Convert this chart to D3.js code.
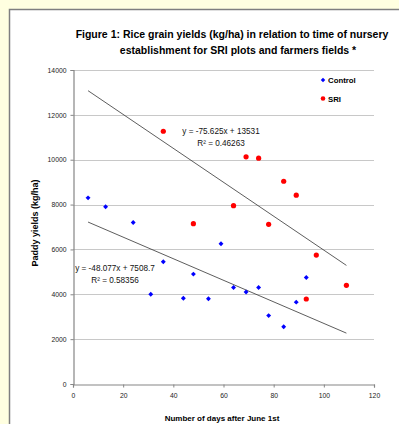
<!DOCTYPE html>
<html>
<head>
<meta charset="utf-8">
<script src="https://cdn.jsdelivr.net/npm/d3@7"></script>
<style>
  body { margin: 0; background: #ffffe0; }
  svg { display: block; font-family: "Liberation Sans", Arial, sans-serif; }
</style>
</head>
<body>
<div id="container"></div>
<script>
const width = 399;
const height = 424;

// days after June 1st and paddy yields (kg/ha)
const controlDays = [6, 13, 24, 31, 36, 44, 48, 54, 59, 64, 69, 74, 78, 84, 89, 93];
const controlYields = [8300, 7900, 7200, 4000, 5450, 3820, 4900, 3800, 6250, 4300, 4100, 4300, 3050, 2550, 3650, 4750];
const sriDays = [36, 48, 64, 69, 74, 78, 84, 89, 93, 97, 109];
const sriYields = [11270, 7150, 7950, 10130, 10070, 7120, 9040, 8420, 3790, 5750, 4400];

const xTicks = [0, 20, 40, 60, 80, 100, 120];
const yTicks = [0, 2000, 4000, 6000, 8000, 10000, 12000, 14000];

// trendlines: slope, intercept, label lines
const trends = [
  { name: "SRI", slope: -75.625, intercept: 13531, eq: "y = -75.625x + 13531", r2: "R² = 0.46263" },
  { name: "Control", slope: -48.077, intercept: 7508.7, eq: "y = -48.077x + 7508.7", r2: "R² = 0.58356" }
];
const trendRange = [6, 109];

const marginLeft = 73;
const marginRight = 25;
const marginTop = 70;
const marginBottom = 40;

const x = d3.scaleLinear().domain([0, 120]).range([marginLeft, width - marginRight]);
const y = d3.scaleLinear().domain([0, 14000]).range([height - marginBottom, marginTop]);

const svg = d3.select("#container")
  .append("svg")
  .attr("width", width)
  .attr("height", height);

// chart box
svg.append("rect")
  .attr("x", 9.5)
  .attr("y", 9.5)
  .attr("width", width)
  .attr("height", height)
  .attr("fill", "#fff")
  .attr("stroke", "#7f7f7f")
  .attr("stroke-width", 1.5);

// title
svg.append("text")
  .attr("x", 232)
  .attr("y", 38)
  .attr("text-anchor", "middle")
  .attr("font-weight", "bold")
  .attr("font-size", 10.5)
  .text("Figure 1: Rice grain yields (kg/ha) in relation to time of nursery");
svg.append("text")
  .attr("x", 238)
  .attr("y", 54)
  .attr("text-anchor", "middle")
  .attr("font-weight", "bold")
  .attr("font-size", 10.5)
  .text("establishment for SRI plots and farmers fields *");

// gridlines
svg.append("g")
  .selectAll("line")
  .data(yTicks.filter(d => d > 0))
  .enter()
  .append("line")
  .attr("x1", x(0))
  .attr("x2", x(120))
  .attr("y1", d => Math.round(y(d)) + 0.5)
  .attr("y2", d => Math.round(y(d)) + 0.5)
  .attr("stroke", "#c8c8c8")
  .attr("stroke-width", 1.2);

// axes
const yAxis = svg.append("g")
  .attr("transform", `translate(${Math.round(x(0)) + 0.5},0)`)
  .call(d3.axisLeft(y).tickValues(yTicks).tickSize(3).tickPadding(4).tickFormat(d3.format("d")));
const xAxis = svg.append("g")
  .attr("transform", `translate(0,${Math.round(y(0)) + 0.5})`)
  .call(d3.axisBottom(x).tickValues(xTicks).tickSize(3).tickPadding(6).tickFormat(d3.format("d")));

[xAxis, yAxis].forEach(g => {
  g.select(".domain").attr("stroke", "#868686").attr("stroke-width", 1.2);
  g.selectAll(".tick line").attr("stroke", "#868686");
  g.selectAll(".tick text")
    .attr("fill", "#222")
    .attr("font-size", 6.8)
    .attr("font-family", "Liberation Sans, Arial, sans-serif");
});

// axis titles
svg.append("text")
  .attr("x", 222)
  .attr("y", 421)
  .attr("text-anchor", "middle")
  .attr("font-weight", "bold")
  .attr("font-size", 8)
  .text("Number of days after June 1st");
svg.append("text")
  .attr("transform", "translate(38,223) rotate(-90)")
  .attr("text-anchor", "middle")
  .attr("font-weight", "bold")
  .attr("font-size", 9)
  .text("Paddy yields (kg/ha)");

// trendlines
svg.append("g")
  .selectAll("line")
  .data(trends)
  .enter()
  .append("line")
  .attr("x1", x(trendRange[0]))
  .attr("x2", x(trendRange[1]))
  .attr("y1", d => y(d.slope * trendRange[0] + d.intercept))
  .attr("y2", d => y(d.slope * trendRange[1] + d.intercept))
  .attr("stroke", "#333")
  .attr("stroke-width", 0.8);

// trendline labels
const labelPos = { SRI: [221, 134], Control: [115, 271] };
const labels = svg.append("g")
  .selectAll("text")
  .data(trends)
  .enter()
  .append("text")
  .attr("text-anchor", "middle")
  .attr("font-size", 8.2)
  .attr("fill", "#111")
  .attr("transform", d => `translate(${labelPos[d.name][0]},${labelPos[d.name][1]})`);
labels.append("tspan").attr("x", 0).attr("y", 0).text(d => d.eq);
labels.append("tspan").attr("x", 0).attr("y", 11.5).text(d => d.r2);

// points: square markers turned 45 degrees
const diamond = d3.symbol().type(d3.symbolSquare).size(12);
svg.append("g")
  .selectAll("path")
  .data(controlDays)
  .enter()
  .append("path")
  .attr("d", diamond)
  .attr("transform", (d, i) => `translate(${x(d)},${y(controlYields[i])}) rotate(45)`)
  .attr("fill", "#0000ff");

svg.append("g")
  .selectAll("circle")
  .data(sriDays)
  .enter()
  .append("circle")
  .attr("cx", d => x(d))
  .attr("cy", (d, i) => y(sriYields[i]))
  .attr("r", 2.6)
  .attr("fill", "#ff0000");

// legend
const legend = svg.append("g").attr("transform", "translate(323,80)");
legend.append("path")
  .attr("d", d3.symbol().type(d3.symbolSquare).size(10))
  .attr("transform", "rotate(45)")
  .attr("fill", "#0000ff");
legend.append("circle")
  .attr("cy", 18.5)
  .attr("r", 2.3)
  .attr("fill", "#ff0000");
legend.selectAll("text")
  .data(["Control", "SRI"])
  .enter()
  .append("text")
  .attr("x", 5)
  .attr("y", (d, i) => i * 18.5 + 3)
  .attr("font-size", 7.8)
  .attr("font-weight", "bold")
  .text(d => d);
</script>
</body>
</html>
